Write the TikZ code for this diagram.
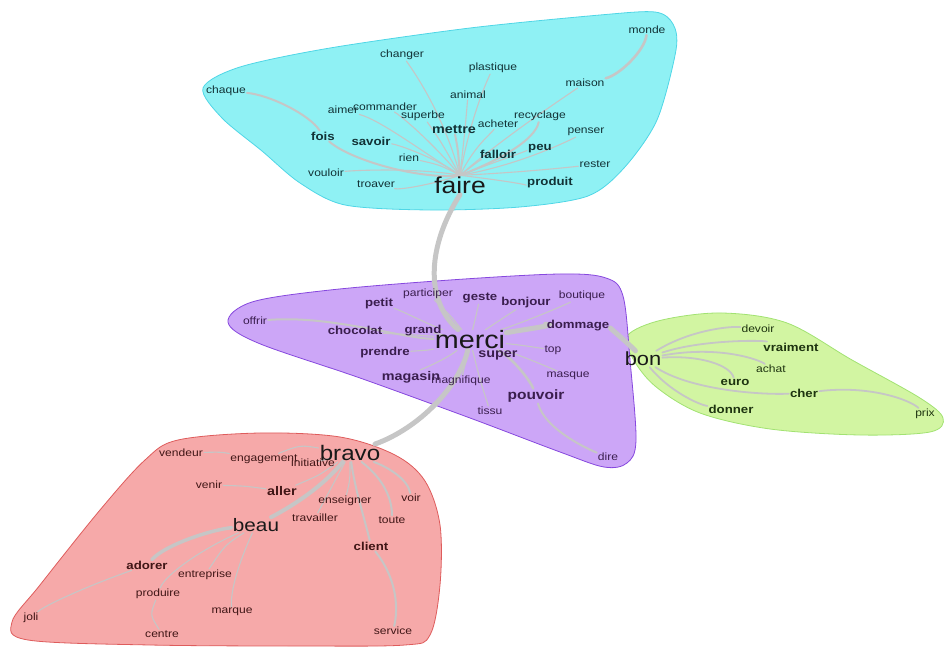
\documentclass[tikz,border=0pt]{standalone}
\usepackage{fontspec}
\setmainfont[FakeStretch=1.15]{Liberation Sans}
\pgfdeclarelayer{blobs}
\pgfdeclarelayer{edges}
\pgfsetlayers{blobs,edges,main}
\definecolor{cyanfill}{HTML}{8FF1F4}
\definecolor{cyanline}{HTML}{4FD6E6}
\definecolor{purpfill}{HTML}{CCA6F7}
\definecolor{purpline}{HTML}{8648DE}
\definecolor{greenfill}{HTML}{D2F5A2}
\definecolor{greenline}{HTML}{A2E272}
\definecolor{redfill}{HTML}{F6A9A9}
\definecolor{redline}{HTML}{DE5C5C}
\definecolor{edgegray}{HTML}{C6C6C6}
\definecolor{tcyan}{HTML}{123236}
\definecolor{tpurp}{HTML}{3A1E4E}
\definecolor{tgreen}{HTML}{1E3410}
\definecolor{tred}{HTML}{401616}
\tikzset{
  blob/.style={line width=0.8pt},
  ws/.style={inner sep=1pt, font=\fontsize{10.5}{11}\selectfont},
  wm/.style={inner sep=1pt, font=\bfseries\fontsize{11.5}{12}\selectfont},
  wl/.style={inner sep=1pt, font=\fontsize{23}{24}\selectfont, text=black!90},
  ce/.style={text=tcyan}, pe/.style={text=tpurp}, ge/.style={text=tgreen}, re/.style={text=tred},
  e/.style={draw=edgegray, line width=1.1pt, line cap=round},
  em/.style={draw=edgegray, line width=2.6pt, line cap=round},
  et/.style={draw=edgegray, line width=5pt, line cap=round}
}
\begin{document}
\begin{tikzpicture}[x=1pt,y=-1pt]
\useasboundingbox (0,0) rectangle (946,650);
% ---------- nodes: cyan cluster
\node[ws,ce] (monde) at (647,30) {monde};
\node[ws,ce] (changer) at (402,55) {changer};
\node[ws,ce] (plastique) at (493,68) {plastique};
\node[ws,ce] (maison) at (585,83) {maison};
\node[ws,ce] (chaque) at (226,91) {chaque};
\node[ws,ce] (animal) at (468,95) {animal};
\node[ws,ce] (aimer) at (343,110) {aimer};
\node[ws,ce] (commander) at (385,107) {commander};
\node[ws,ce] (superbe) at (423,116) {superbe};
\node[ws,ce] (recyclage) at (540,116) {recyclage};
\node[wm,ce,font=\bfseries\fontsize{12.5}{13}\selectfont] (mettre) at (454,129) {mettre};
\node[ws,ce] (acheter) at (498,124) {acheter};
\node[ws,ce] (penser) at (586,132) {penser};
\node[wm,ce] (fois) at (323,136) {fois};
\node[wm,ce] (savoir) at (371,141) {savoir};
\node[wm,ce] (peu) at (540,149) {peu};
\node[wm,ce] (falloir) at (498,154) {falloir};
\node[ws,ce] (rien) at (409,158) {rien};
\node[ws,ce] (rester) at (595,164) {rester};
\node[ws,ce] (vouloir) at (326,173) {vouloir};
\node[ws,ce] (troaver) at (376,184) {troaver};
\node[wl] (faire) at (460,185) {faire};
\node[wm,ce] (produit) at (550,183) {produit};
% ---------- purple cluster
\node[ws,pe] (participer) at (428,294) {participer};
\node[wm,pe] (geste) at (480,298) {geste};
\node[ws,pe] (boutique) at (582,296) {boutique};
\node[wm,pe] (petit) at (379,304) {petit};
\node[wm,pe] (bonjour) at (526,303) {bonjour};
\node[ws,pe] (offrir) at (255,321) {offrir};
\node[wm,pe] (chocolat) at (355,330) {chocolat};
\node[wm,pe] (grand) at (423,331) {grand};
\node[wm,pe] (dommage) at (578,326) {dommage};
\node[wl,font=\fontsize{25}{26}\selectfont] (merci) at (470,340) {merci};
\node[wm,pe,font=\bfseries\fontsize{12.5}{13}\selectfont] (super) at (498,355) {super};
\node[wm,pe] (prendre) at (385,353) {prendre};
\node[ws,pe] (top) at (553,350) {top};
\node[wm,pe,font=\bfseries\fontsize{12.5}{13}\selectfont] (magasin) at (411,377) {magasin};
\node[ws,pe] (magnifique) at (461,381) {magnifique};
\node[ws,pe] (masque) at (568,376) {masque};
\node[wm,pe,font=\bfseries\fontsize{13.5}{14}\selectfont] (pouvoir) at (536,396) {pouvoir};
\node[ws,pe] (tissu) at (490,411) {tissu};
\node[ws,pe] (dire) at (608,457) {dire};
% ---------- green cluster
\node[ws,ge] (devoir) at (758,329) {devoir};
\node[wm,ge] (vraiment) at (791,347) {vraiment};
\node[wl,font=\fontsize{19}{20}\selectfont] (bon) at (643,359) {bon};
\node[ws,ge] (achat) at (771,369) {achat};
\node[wm,ge] (euro) at (735,382) {euro};
\node[wm,ge] (cher) at (804,393) {cher};
\node[wm,ge] (donner) at (731,409) {donner};
\node[ws,ge] (prix) at (925,414) {prix};
% ---------- red cluster
\node[ws,re] (vendeur) at (181,453) {vendeur};
\node[ws,re] (engagement) at (264,459) {engagement};
\node[ws,re] (initiative) at (313,463) {initiative};
\node[wl,font=\fontsize{21}{22}\selectfont] (bravo) at (350,453) {bravo};
\node[ws,re] (venir) at (209,485) {venir};
\node[wm,re,font=\bfseries\fontsize{12.5}{13}\selectfont] (aller) at (282,491) {aller};
\node[ws,re] (enseigner) at (345,501) {enseigner};
\node[ws,re] (voir) at (411,498) {voir};
\node[ws,re] (travailler) at (315,518) {travailler};
\node[wl,font=\fontsize{18}{19}\selectfont] (beau) at (256,525) {beau};
\node[ws,re] (toute) at (392,520) {toute};
\node[wm,re] (client) at (371,546) {client};
\node[wm,re] (adorer) at (147,565) {adorer};
\node[ws,re] (entreprise) at (205,575) {entreprise};
\node[ws,re] (produire) at (158,594) {produire};
\node[ws,re] (marque) at (232,612) {marque};
\node[ws,re] (joli) at (31,618) {joli};
\node[ws,re] (centre) at (162,634) {centre};
\node[ws,re] (service) at (393,631) {service};
% ---------- blobs
\begin{pgfonlayer}{blobs}
\draw[blob, fill=greenfill, draw=greenline] plot[smooth cycle, tension=0.55] coordinates {
  (628,335) (662,320) (722,313) (787,323) (852,360) (920,398) (943,418) (930,432)
  (860,435) (770,429) (700,413) (655,386) (632,357)};
\draw[blob, fill=cyanfill, draw=cyanline] plot[smooth cycle, tension=0.5] coordinates {
  (203,88) (240,67) (330,48) (470,28) (600,15) (655,12) (673,24) (676,50) (657,120)
  (624,168) (588,196) (520,207) (430,210) (345,205) (300,183) (262,151) (222,118)};
\draw[blob, fill=purpfill, draw=purpline] plot[smooth cycle, tension=0.55] coordinates {
  (228,322) (252,302) (330,290) (450,280) (560,274) (606,278) (623,296) (630,360)
  (636,440) (627,463) (604,467) (560,452) (470,418) (360,378) (258,343)};
\draw[blob, fill=redfill, draw=redline] plot[smooth cycle, tension=0.55] coordinates {
  (12,622) (40,585) (100,510) (145,460) (178,440) (260,433) (340,437) (395,455)
  (425,481) (440,525) (440,585) (430,635) (405,645) (300,646) (150,645) (28,640)};
\end{pgfonlayer}
% ---------- edges
\begin{pgfonlayer}{edges}
% cyan
\draw[e] (faire.north) .. controls (445,120) and (420,80) .. (changer);
\draw[e] (faire.north) .. controls (470,120) and (485,85) .. (plastique);
\draw[e] (faire.north) .. controls (465,130) .. (animal);
\draw[e] (faire.north) .. controls (420,150) and (380,120) .. (aimer);
\draw[e] (faire.north) .. controls (430,140) and (400,115) .. (commander);
\draw[e] (faire.north) .. controls (440,140) .. (superbe);
\draw[em,line width=2pt] (faire.north) .. controls (458,150) .. (mettre);
\draw[e] (faire.north) .. controls (475,145) and (490,135) .. (acheter);
\draw[em,line width=2pt] (faire.north) .. controls (500,160) and (535,140) .. (recyclage);
\draw[e] (faire.north) .. controls (500,140) and (560,100) .. (maison);
\draw[em] (maison) .. controls (620,75) and (645,50) .. (monde);
\draw[e] (faire.north) .. controls (520,165) and (570,140) .. (penser);
\draw[e] (faire.north) .. controls (500,160) and (530,150) .. (peu);
\draw[e] (faire.north) .. controls (480,160) .. (falloir);
\draw[e] (faire.north) .. controls (530,172) and (580,166) .. (rester);
\draw[e] (faire.north) .. controls (500,180) and (530,185) .. (produit);
\draw[e] (faire.north) .. controls (440,160) and (400,145) .. (savoir);
\draw[e] (faire.north) .. controls (440,165) .. (rien);
\draw[e] (faire.north) .. controls (420,168) and (360,170) .. (vouloir);
\draw[e] (faire.north) .. controls (430,185) and (400,190) .. (troaver);
\draw[em,line width=2pt] (faire.north) .. controls (420,180) and (350,160) .. (fois);
\draw[em,line width=2pt] (fois) .. controls (310,115) and (270,95) .. (chaque);
% hubs
\draw[et] (faire.south) .. controls (428,245) and (424,300) .. (merci);
\draw[et] (merci) .. controls (520,330) and (560,325) .. (dommage);
\draw[et] (dommage) .. controls (610,328) and (630,345) .. (bon);
\draw[et] (merci) .. controls (460,385) and (420,428) .. (bravo);
% purple
\draw[e] (merci) .. controls (450,315) .. (participer);
\draw[e] (merci) .. controls (475,320) .. (geste);
\draw[e] (merci) .. controls (500,320) .. (bonjour);
\draw[e] (merci) .. controls (530,320) and (565,305) .. (boutique);
\draw[e] (merci) .. controls (430,325) and (400,310) .. (petit);
\draw[e] (merci) .. controls (420,335) and (380,333) .. (chocolat);
\draw[em,line width=2pt] (merci) .. controls (400,338) and (330,315) .. (offrir);
\draw[e] (merci) -- (grand);
\draw[e] (merci) .. controls (430,350) .. (prendre);
\draw[e] (merci) .. controls (445,360) and (420,370) .. (magasin);
\draw[e] (merci) .. controls (465,365) .. (magnifique);
\draw[e] (merci) -- (super);
\draw[e] (merci) .. controls (520,345) .. (top);
\draw[e] (merci) .. controls (520,355) and (555,370) .. (masque);
\draw[e] (merci) .. controls (480,380) .. (tissu);
\draw[em] (merci) .. controls (510,355) and (530,380) .. (pouvoir);
\draw[em,line width=2pt] (pouvoir) .. controls (545,430) and (590,450) .. (dire);
% green
\draw[em,line width=1.8pt] (bon) .. controls (690,330) and (730,326) .. (devoir);
\draw[em,line width=1.8pt] (bon) .. controls (700,340) and (760,340) .. (vraiment);
\draw[em,line width=1.8pt] (bon) .. controls (720,345) and (760,360) .. (achat);
\draw[em,line width=1.8pt] (bon) .. controls (700,355) and (730,365) .. (euro);
\draw[em,line width=1.8pt] (bon) .. controls (690,390) and (760,395) .. (cher);
\draw[em,line width=1.8pt] (bon) .. controls (670,392) and (700,405) .. (donner);
\draw[em,line width=1.8pt] (cher) .. controls (870,385) and (910,400) .. (prix);
% red
\draw[e] (bravo) .. controls (300,445) .. (engagement);
\draw[e] (engagement) .. controls (220,452) .. (vendeur);
\draw[e] (bravo) -- (initiative);
\draw[e] (bravo) .. controls (320,475) .. (aller);
\draw[e] (aller) .. controls (245,486) .. (venir);
\draw[e] (bravo) .. controls (350,480) .. (enseigner);
\draw[em,line width=2pt] (bravo) .. controls (390,468) and (408,480) .. (voir);
\draw[em,line width=2pt] (bravo) .. controls (385,480) and (392,500) .. (toute);
\draw[e] (bravo) .. controls (330,490) .. (travailler);
\draw[em,line width=2pt] (bravo) .. controls (355,490) and (365,520) .. (client);
\draw[em,line width=2pt] (client) .. controls (398,580) and (398,610) .. (service);
\draw[et,line width=4pt] (bravo) .. controls (320,490) and (285,510) .. (beau);
\draw[em,line width=3.5pt] (beau) .. controls (210,530) and (165,545) .. (adorer);
\draw[e] (beau) .. controls (225,545) .. (entreprise);
\draw[e] (beau) .. controls (200,550) and (165,575) .. (produire);
\draw[e] (beau) .. controls (240,560) and (230,590) .. (marque);
\draw[e] (adorer) .. controls (90,585) and (45,605) .. (joli);
\draw[e] (produire) .. controls (150,615) .. (centre);
\end{pgfonlayer}
\end{tikzpicture}
\end{document}
